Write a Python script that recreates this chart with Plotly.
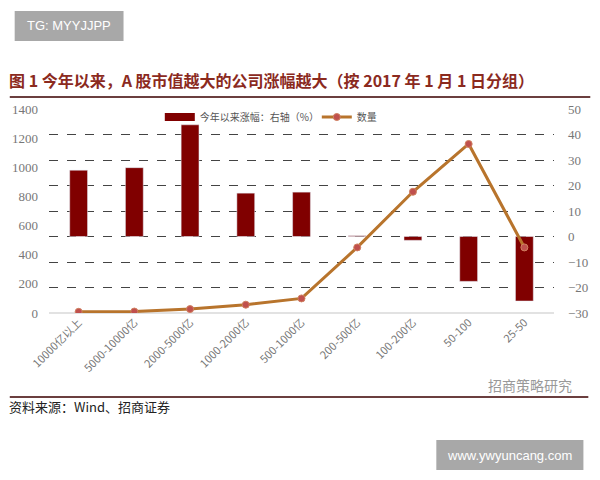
import plotly.graph_objects as go

categories = ["10000亿以上", "5000-10000亿", "2000-5000亿", "1000-2000亿", "500-1000亿",
              "200-500亿", "100-200亿", "50-100", "25-50"]
gain_pct = [26, 27, 43.8, 17, 17.4, 0.3, -1.5, -17.6, -25.3]
count = [8, 10, 27, 57, 100, 450, 832, 1160, 450]

W, H = 600, 480
# plot area in page pixels
L, R, T, B = 45, 560, 109, 313


def px(x):
    return (x - L) / (R - L)


def py(y):
    return (B - y) / (B - T)


bar_color = "#800000"

fig = go.Figure()

fig.add_trace(go.Bar(
    x=categories, y=gain_pct, name="今年以来涨幅：右轴（%）", showlegend=False,
    marker=dict(color=bar_color), width=0.32, yaxis="y",
))
# legend entry for the bars, drawn as a wide block like the original
fig.add_trace(go.Scatter(
    x=[None], y=[None], name="今年以来涨幅：右轴（%）", mode="lines", yaxis="y",
    line=dict(color=bar_color, width=8),
))
fig.add_trace(go.Scatter(
    x=categories, y=count, name="数量", mode="lines+markers", yaxis="y2",
    line=dict(color="#B8742C", width=3),
    marker=dict(color="#C0504D", size=7, line=dict(color="#D08060", width=1)),
))

tick_font = dict(family="Liberation Serif, Noto Sans CJK SC", size=13, color="#777")

fig.update_layout(
    width=W, height=H,
    margin=dict(l=L, r=W - R, t=T, b=H - B),
    paper_bgcolor="white", plot_bgcolor="white",
    showlegend=True,
    legend=dict(orientation="h", x=px(158), y=py(117), xanchor="left", yanchor="middle",
                bgcolor="rgba(0,0,0,0)", font=dict(family="Noto Sans CJK SC", size=10, color="#555"),
                itemwidth=30, entrywidth=112, entrywidthmode="pixels", traceorder="normal"),
    xaxis=dict(tickangle=-45, tickfont=dict(family="Noto Sans CJK SC", size=11, color="#777"),
               showgrid=False, showline=False, ticks=""),
    yaxis=dict(side="right", range=[-30, 50], dtick=10, showgrid=True,
               gridcolor="#444", griddash="dash", gridwidth=1, zeroline=False,
               tickfont=tick_font, ticks="", ticklabelstandoff=13),
    yaxis2=dict(side="left", overlaying="y", range=[0, 1400], dtick=200, showgrid=False,
                zeroline=False, tickfont=tick_font, ticks="", ticklabelstandoff=10),
)

shapes = [
    dict(type="line", xref="paper", yref="paper", x0=0, x1=1, y0=0, y1=0,
         layer="between", line=dict(color="#e2e2e2", width=2)),
    dict(type="line", xref="paper", yref="paper", x0=px(5), x1=px(597), y0=py(97), y1=py(97),
         line=dict(color="#6b3f3f", width=2)),
    dict(type="line", xref="paper", yref="paper", x0=px(5), x1=px(595), y0=py(397), y1=py(397),
         line=dict(color="#6b3f3f", width=2)),
    dict(type="rect", xref="paper", yref="paper", x0=px(10), x1=px(121), y0=py(11), y1=py(41),
         fillcolor="#a8a8a8", line=dict(width=0)),
    dict(type="rect", xref="paper", yref="paper", x0=px(440), x1=px(590), y0=py(440), y1=py(470),
         fillcolor="#a8a8a8", line=dict(width=0)),
]
fig.update_layout(shapes=shapes)

title = "图 1 今年以来，A 股市值越大的公司涨幅越大（按 2017 年 1 月 1 日分组）"
fig.add_annotation(x=px(2), y=py(80), xref="paper", yref="paper", xanchor="left", yanchor="middle",
                   showarrow=False, text="<b>" + title + "</b>",
                   font=dict(family="Noto Sans CJK SC", size=16, color="#8B2A1E"))
fig.add_annotation(x=px(2), y=py(406), xref="paper", yref="paper", xanchor="left", yanchor="middle",
                   showarrow=False, text="资料来源：Wind、招商证券",
                   font=dict(family="Noto Sans CJK SC", size=13, color="#222"))
fig.add_annotation(x=px(580), y=py(385), xref="paper", yref="paper", xanchor="right", yanchor="middle",
                   showarrow=False, text="招商策略研究",
                   font=dict(family="Noto Sans CJK SC", size=14, color="#999"))
fig.add_annotation(x=px(65), y=py(26), xref="paper", yref="paper", xanchor="center", yanchor="middle",
                   showarrow=False, text="TG: MYYJJPP",
                   font=dict(family="Liberation Sans", size=13, color="white"))
fig.add_annotation(x=px(515), y=py(455), xref="paper", yref="paper", xanchor="center", yanchor="middle",
                   showarrow=False, text="www.ywyuncang.com",
                   font=dict(family="Liberation Sans", size=13, color="white"))

# drop the browser's default 8px body margin so the 600x480 figure fills the window
fig.write_html("out.html", config={"displayModeBar": False},
               post_script="document.body.style.margin='0';")
